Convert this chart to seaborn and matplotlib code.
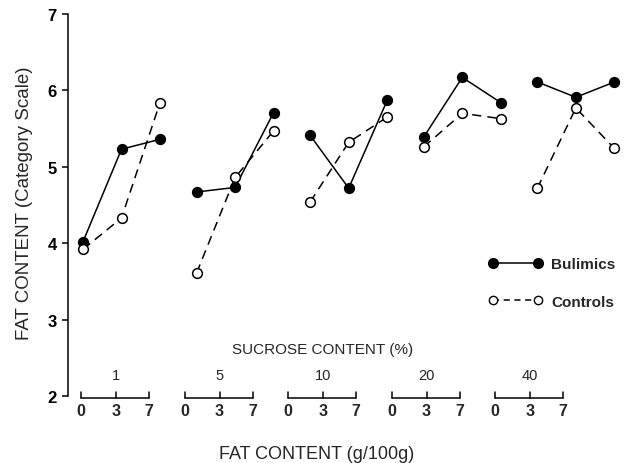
import pandas as pd
import matplotlib.pyplot as plt
import seaborn as sns
from matplotlib.lines import Line2D

# values
sucrose_levels = ["1", "5", "10", "20", "40"]
fat_levels = ["0", "3", "7"]
bulimics = [
    [4.02, 5.23, 5.36],
    [4.67, 4.73, 5.71],
    [5.41, 4.72, 5.87],
    [5.39, 6.17, 5.84],
    [6.11, 5.91, 6.11],
]
controls = [
    [3.92, 4.33, 5.84],
    [3.61, 4.86, 5.47],
    [4.54, 5.32, 5.65],
    [5.26, 5.70, 5.63],
    [4.72, 5.77, 5.24],
]

GROUP_STEP = 2.95  # gap between sucrose groups, in fat-step units

rows = []
for g, suc in enumerate(sucrose_levels):
    for i, fat in enumerate(fat_levels):
        pos = g * GROUP_STEP + i
        rows.append({"group": "Bulimics", "sucrose": suc, "fat": fat, "pos": pos, "rating": bulimics[g][i]})
        rows.append({"group": "Controls", "sucrose": suc, "fat": fat, "pos": pos, "rating": controls[g][i]})
df = pd.DataFrame(rows)

sns.set_theme(style="white")
plt.rcParams["font.family"] = ["Liberation Sans", "DejaVu Sans"]

fig = plt.figure(figsize=(6.29, 4.64), dpi=100)
ax = fig.add_axes([0.1081, 0.1444, 0.8919, 0.8233])

styles = {
    "Bulimics": dict(markerfacecolor="black", linestyle="-"),
    "Controls": dict(markerfacecolor="white", linestyle=(0, (6, 4))),
}
for grp, st in styles.items():
    sns.lineplot(
        data=df[df["group"] == grp], x="pos", y="rating", units="sucrose",
        estimator=None, color="black", marker="o", markersize=7,
        markeredgecolor="black", markeredgewidth=1.1, linewidth=1.1,
        legend=False, ax=ax, zorder=3, **st,
    )

ax.set_xlim(-0.39, 14.18)
ax.set_ylim(2, 7)
ax.set_xlabel("")
ax.set_ylabel("")
ax.set_xticks([])
ax.set_yticks(range(2, 8))
ax.tick_params(axis="y", direction="out", length=4, width=1.1, pad=4,
               labelsize=12, left=True, colors="black")
for lab in ax.get_yticklabels():
    lab.set_fontweight("bold")
for side in ["top", "right", "bottom"]:
    ax.spines[side].set_visible(False)
ax.spines["left"].set_color("black")
ax.spines["left"].set_linewidth(1.1)

# bracket scales under each sucrose group
for g, suc in enumerate(sucrose_levels):
    x0 = -0.052 + 2.688 * g
    x1 = x0 + 1.766
    xm = x0 + 0.909
    ax.plot([x0, x1], [1.972, 1.972], color="black", lw=1.1, clip_on=False)
    for xt in (x0, xm, x1):
        ax.plot([xt, xt], [1.972, 2.055], color="black", lw=1.1, clip_on=False)
    for xt, lab in zip((x0, xm, x1), fat_levels):
        ax.text(xt, 1.81, lab, ha="center", va="center", fontsize=11.5,
                fontweight="bold", clip_on=False)
    ax.text(xm, 2.28, suc, ha="center", va="center", fontsize=10.5)

ax.text(6.23, 2.615, "SUCROSE CONTENT (%)", ha="center", va="center", fontsize=11)

fig.text(317 / 629, 1 - 455 / 464, "FAT CONTENT (g/100g)", ha="center", va="center",
         fontsize=13)
fig.text(25 / 629, 1 - 203 / 464, "FAT CONTENT (Category Scale)", ha="center",
         va="center", rotation=90, fontsize=13.5)

handles = [
    Line2D([], [], color="black", marker="o", markersize=7, lw=1.1,
           markerfacecolor="black", markeredgecolor="black"),
    Line2D([], [], color="black", marker="o", markersize=6, lw=1.1,
           linestyle=(0, (4, 3)), markerfacecolor="white", markeredgecolor="black"),
]
fig.legend(handles, ["Bulimics", "Controls"], loc="center left",
           bbox_to_anchor=(488 / 629, 1 - 284 / 464), frameon=False, numpoints=2,
           handlelength=3.6, handletextpad=0.55, labelspacing=1.55,
           borderpad=0, borderaxespad=0, prop={"size": 11, "weight": "bold"})

fig.savefig("out.png", dpi=100)
